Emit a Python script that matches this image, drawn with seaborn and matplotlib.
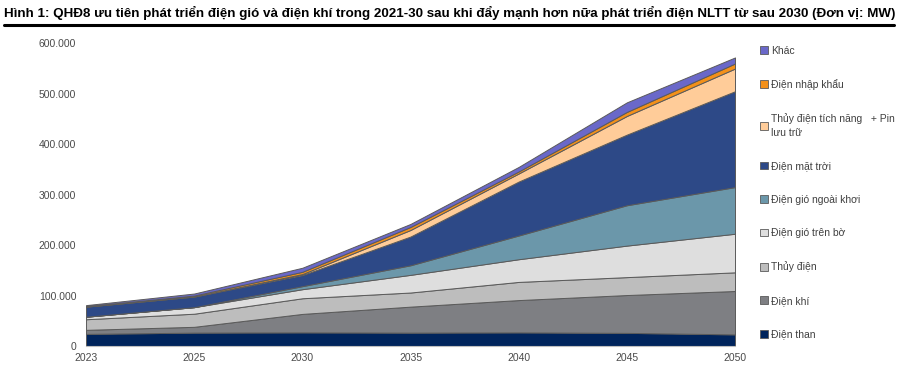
import numpy as np
import pandas as pd
import matplotlib
matplotlib.use("Agg")
import matplotlib.pyplot as plt
from matplotlib.patches import Patch
from matplotlib.ticker import FuncFormatter
import seaborn as sns

# ---------------------------------------------------------------------------
# Data (MW)
# ---------------------------------------------------------------------------
years = ["2023", "2025", "2030", "2035", "2040", "2045", "2050"]

dien_than      = [24000, 26500, 27000, 26500, 27000, 26000, 23000]
dien_khi       = [8000, 11500, 36600, 51500, 64000, 75000, 86000]
thuy_dien      = [21000, 26000, 31000, 28000, 36000, 35500, 37000]
gio_tren_bo    = [5000, 13000, 18000, 35000, 45000, 62500, 76500]
gio_ngoai_khoi = [0, 0, 6000, 19000, 47000, 80000, 92500]
dien_mat_troi  = [20000, 21000, 22000, 57000, 107000, 140000, 190000]
tich_nang_pin  = [0, 0, 2000, 13000, 16000, 37000, 45000]
nhap_khau      = [1000, 2000, 4500, 6000, 4000, 8000, 10000]
khac           = [2000, 4000, 8000, 6000, 9000, 19000, 12000]

series_names = [
    "Điện than", "Điện khí", "Thủy điện", "Điện gió trên bờ",
    "Điện gió ngoài khơi", "Điện mặt trời",
    "Thủy điện tích năng   + Pin\nlưu trữ", "Điện nhập khẩu", "Khác",
]
colors = [
    "#00245c", "#7e7f83", "#bdbdbd", "#dedede",
    "#6b97aa", "#2d4987", "#ffcc99", "#f39019", "#6a68c9",
]

df = pd.DataFrame(
    [dien_than, dien_khi, thuy_dien, gio_tren_bo, gio_ngoai_khoi,
     dien_mat_troi, tich_nang_pin, nhap_khau, khac],
    index=series_names, columns=years,
)

# ---------------------------------------------------------------------------
# Style
# ---------------------------------------------------------------------------
sns.set_theme(style="white")
plt.rcParams["font.family"] = ["Liberation Sans", "DejaVu Sans"]

fig = plt.figure(figsize=(8.98, 3.70), dpi=100)
ax = fig.add_axes([0.0958, 0.0649, 0.7227, 0.818])

x = np.arange(len(years))
ax.stackplot(x, df.values, colors=colors, edgecolor="#5a5a5a", linewidth=0.7)

ax.set_xlim(0, len(years) - 1)
ax.set_ylim(0, 600000)
ax.set_xticks(x)
ax.set_xticklabels(years)
ax.set_yticks(np.arange(0, 600001, 100000))
ax.yaxis.set_major_formatter(
    FuncFormatter(lambda v, _: f"{int(v):,}".replace(",", "."))
)
ax.tick_params(axis="y", labelsize=7.5, colors="#4a4a4a", length=0, pad=7)
ax.tick_params(axis="x", labelsize=7.5, colors="#4a4a4a", length=3,
               direction="out", pad=2)
ax.tick_params(axis="x", which="both", color="#bfbfbf")

for side in ["left", "top", "right"]:
    ax.spines[side].set_visible(False)
ax.spines["bottom"].set_color("#bfbfbf")
ax.spines["bottom"].set_linewidth(0.8)

# Legend (reverse order, top = Khác)
handles = [Patch(facecolor=c, edgecolor="#5a5a5a", linewidth=0.6, label=n)
           for n, c in zip(series_names, colors)][::-1]
leg = fig.legend(handles=handles, loc="upper left", bbox_to_anchor=(0.842, 0.888),
                 frameon=False, fontsize=7.5, labelcolor="#404040",
                 handlelength=0.75, handleheight=0.75, handletextpad=0.25,
                 labelspacing=2.25, borderaxespad=0)
for t in leg.get_texts():
    t.set_linespacing(1.45)

# Title and rule
fig.text(0.005, 0.965,
         "Hình 1: QHĐ8 ưu tiên phát triển điện gió và điện khí trong 2021-30 sau khi đẩy "
         "mạnh hơn nữa phát triển điện NLTT từ sau 2030 (Đơn vị: MW)",
         fontsize=9.6, fontweight="bold", color="black", va="center", ha="left")
fig.add_artist(plt.Line2D([0.004, 0.996], [0.932, 0.932], color="black",
                          linewidth=2.2, transform=fig.transFigure))

fig.savefig("out.png", dpi=100)
